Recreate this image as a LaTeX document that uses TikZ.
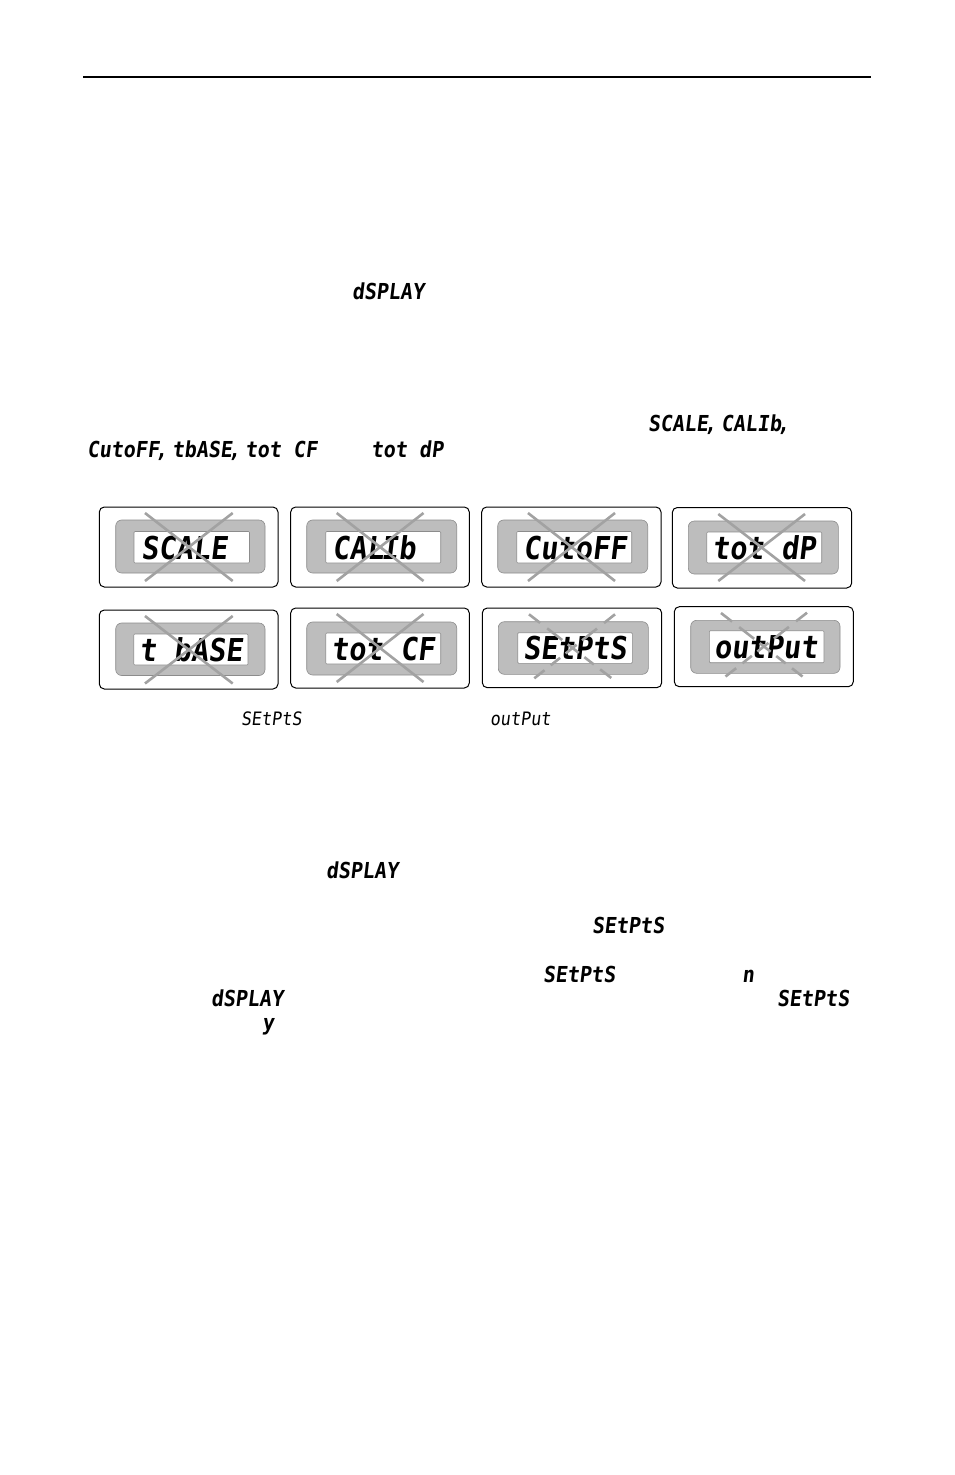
\documentclass[tikz,border=0pt]{standalone}
\usepackage{fontspec}
\newfontfamily\segfont[FakeStretch=0.91,FakeSlant=0.12]{DejaVu Sans Mono}
\definecolor{panelgray}{HTML}{BDBDBD}
\definecolor{edgegray}{HTML}{8C8C8C}
\definecolor{crossgray}{HTML}{A2A2A2}
\tikzset{
  outerbox/.style={draw=black,line width=1pt,fill=white,rounded corners=5pt},
  graybox/.style={draw=edgegray,line width=0.6pt,fill=panelgray,rounded corners=6pt},
  lcdbox/.style={draw=edgegray,line width=0.6pt,fill=white,rounded corners=1pt},
  crossline/.style={draw=crossgray,line width=2.6pt},
  dashedcross/.style={crossline,dash pattern=on 14pt off 9pt on 19pt off 7pt on 14pt off 7pt on 12pt off 8pt on 14pt off 5pt},
  seglabel/.style={anchor=base west,inner sep=0pt,outer sep=0pt,text=black},
  biglabel/.style={seglabel,font=\segfont\bfseries\fontsize{31.5}{33}\selectfont},
  inlinelabel/.style={seglabel,font=\segfont\bfseries\fontsize{22}{24}\selectfont},
  smalllabel/.style={seglabel,font=\segfont\fontsize{18.5}{20}\selectfont},
}
\newcommand{\lcdpanel}[4]{\draw[outerbox] (#1) rectangle (#2);\draw[graybox] (#3) rectangle (#4);}
\begin{document}
\begin{tikzpicture}[x=1pt,y=-1pt]
\useasboundingbox (0,0) rectangle (954,1475);
\fill[white] (0,0) rectangle (954,1475);
\draw[line width=2pt,black] (83,76.5) -- (871,76.5);

% inline display words
\node[inlinelabel] (w1) at (352,299) {dSPLAY};
\node[inlinelabel] (w2) at (648,431) {SCALE\kern-4pt,};
\node[inlinelabel] (w3) at (721,431) {CAL\kern-6pt\ \kern-6pt Ib\kern-4pt,};
\node[inlinelabel] (w4) at (87,457) {CutoFF\kern-4pt,};
\node[inlinelabel] (w5) at (172,457) {tbASE\kern-4pt,};
\node[inlinelabel] (w6) at (245,457) {tot CF};
\node[inlinelabel] (w7) at (371,457) {tot dP};
\node[smalllabel] (c1) at (241,725) {SEtPtS};
\node[smalllabel] (c2) at (490,725) {outPut};
\node[inlinelabel] (w8) at (326,878) {dSPLAY};
\node[inlinelabel] (w9) at (592,933) {SEtPtS};
\node[inlinelabel] (w10) at (543,982) {SEtPtS};
\node[inlinelabel] (w11) at (742,982) {n};
\node[inlinelabel] (w12) at (211,1006) {dSPLAY};
\node[inlinelabel] (w13) at (777,1006) {SEtPtS};
\node[inlinelabel] (w14) at (262,1030) {y};

% panels
\lcdpanel{99.3,507}{278,587}{115.7,520}{265,573}
\draw[lcdbox] (134,531.5) rectangle (249.5,563);
\node[biglabel] (p1) at (141,559) {SCALE};
\draw[crossline] (145,513) -- (232.7,581) (232.7,513) -- (145,581);

\lcdpanel{290.7,507}{469.3,587}{306.7,520}{456.7,573}
\draw[lcdbox] (325.7,531.5) rectangle (440.7,563);
\node[biglabel] (p2) at (332,559) {CAL\kern-10pt\ \kern-10pt Ib};
\draw[crossline] (336.7,513) -- (423.5,581) (423.5,513) -- (336.7,581);

\lcdpanel{481.7,507}{661,587}{497.7,520}{647.7,573}
\draw[lcdbox] (516.7,531.5) rectangle (631.7,563);
\node[biglabel] (p3) at (523,559) {CutoFF};
\draw[crossline] (528,513) -- (615,581) (615,513) -- (528,581);

\lcdpanel{672.3,507.5}{851.7,588}{688.3,521}{838.3,574}
\draw[lcdbox] (706.7,532) rectangle (821.7,563);
\node[biglabel] (p4) at (712,559) {tot dP};
\draw[crossline] (718.3,514) -- (805,581) (805,514) -- (718.3,581);

\lcdpanel{99.3,610}{278,689}{115.7,623}{265,675.5}
\draw[lcdbox] (133.7,634) rectangle (248,665);
\node[biglabel] (p5) at (139,661.5) {t bASE};
\draw[crossline] (145,616) -- (232.7,683.5) (232.7,616) -- (145,683.5);

\lcdpanel{290.7,608}{469.3,688}{306.7,622}{456.7,675}
\draw[lcdbox] (325.7,633) rectangle (440.7,664);
\node[biglabel] (p6) at (331,660) {tot CF};
\draw[crossline] (336.7,614) -- (423.5,682) (423.5,614) -- (336.7,682);

\lcdpanel{482.3,608}{661.7,687.7}{498.3,621.7}{648.3,674.3}
\draw[lcdbox] (517.7,632.7) rectangle (632.3,663.3);
\node[biglabel] (p7) at (523,659) {SEtPtS};
\draw[dashedcross] (529,614.3) -- (611.7,678.3);
\draw[dashedcross] (615,614.3) -- (534.3,678.3);

\lcdpanel{674.3,606.7}{853.3,686.7}{690.7,620.3}{840,673.3}
\draw[lcdbox] (709.3,630.7) rectangle (824,662.7);
\node[biglabel] (p8) at (714,658) {outPut};
\draw[dashedcross] (721,613) -- (802.5,676.5);
\draw[dashedcross] (807,612.7) -- (725.5,676.5);
\end{tikzpicture}
\end{document}
